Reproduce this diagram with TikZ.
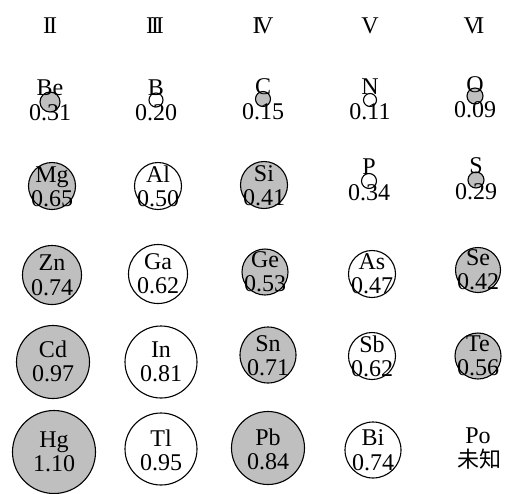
\documentclass[tikz,border=0pt]{standalone}
\usepackage{fontspec}
\setmainfont{Liberation Serif}
\newfontfamily\cjk{Noto Sans CJK SC}
\newcommand\atomcell[9]{%
  \node[#5,minimum size=#4*2pt] (#1) at (#2,#3) {};
  \node[lbl] (#1-el) at (#2,#8) {#6};
  \node[lbl] (#1-r) at (#2,#9) {#7};}
\begin{document}
\begin{tikzpicture}[x=1pt,y=-1pt,
  atom/.style={circle,draw,line width=1.1pt,inner sep=0pt,outer sep=0pt},
  filled/.style={atom,fill=black!25},
  hollow/.style={atom,fill=white},
  lbl/.style={anchor=base,inner sep=0pt,font=\fontsize{24}{26}\selectfont},
  head/.style={anchor=base,inner sep=0pt,font=\fontsize{24}{24}\selectfont}]
\useasboundingbox (0,0) rectangle (511,493);
% headers
\node[head] (h2) at (50,33) {I\kern-2pt I};
\node[head] (h3) at (155,33) {I\kern-3pt I\kern-3pt I};
\node[head] (h4) at (263,33) {I\kern-4.5pt V};
\node[head] (h5) at (370,33) {V};
\node[head] (h6) at (474,33) {V\kern-4.5pt I};
% row 1
\atomcell{be}{50}{102}{10}{filled}{Be}{0.31}{95}{120}
\atomcell{b}{156}{100}{7}{hollow}{B}{0.20}{95}{120}
\atomcell{c}{263}{99}{7.5}{filled}{C}{0.15}{94}{119}
\atomcell{n}{370}{100}{6.5}{hollow}{N}{0.11}{94}{119}
\atomcell{o}{475}{96}{8}{filled}{O}{0.09}{92}{117}
% row 2
\atomcell{mg}{52}{186}{23.5}{filled}{Mg}{0.65}{182}{206.5}
\atomcell{al}{158}{186}{23.5}{hollow}{Al}{0.50}{182}{206.5}
\atomcell{si}{264}{185}{23.5}{filled}{Si}{0.41}{181}{205.5}
\atomcell{p}{369}{181}{7.5}{hollow}{P}{0.34}{174}{200}
\atomcell{s}{476}{180}{8}{filled}{S}{0.29}{173}{199}
% row 3
\atomcell{zn}{52}{275}{29.5}{filled}{Zn}{0.74}{270}{295}
\atomcell{ga}{158}{274}{29.5}{hollow}{Ga}{0.62}{269}{293.5}
\atomcell{ge}{265}{272}{23}{filled}{Ge}{0.53}{267}{291}
\atomcell{as}{372}{274}{23.5}{hollow}{As}{0.47}{269}{293}
\atomcell{se}{478}{270}{22.5}{filled}{Se}{0.42}{265}{289}
% row 4
\atomcell{cd}{53}{362}{36.5}{filled}{Cd}{0.97}{357}{381}
\atomcell{in}{161}{362}{36}{hollow}{In}{0.81}{357}{381}
\atomcell{sn}{268}{355}{28}{filled}{Sn}{0.71}{351}{375.5}
\atomcell{sb}{372}{356}{23.5}{hollow}{Sb}{0.62}{352}{376}
\atomcell{te}{478}{356}{23}{filled}{Te}{0.56}{351}{375.5}
% row 5
\atomcell{hg}{54}{452}{41.5}{filled}{Hg}{1.10}{447}{471.5}
\atomcell{tl}{161}{449}{36}{hollow}{Tl}{0.95}{446}{470}
\atomcell{pb}{268}{448}{36.5}{filled}{Pb}{0.84}{445}{469}
\atomcell{bi}{373}{450}{28}{hollow}{Bi}{0.74}{445}{470}
\node[lbl] (po-el) at (478,443) {Po};
\node[lbl,font=\fontsize{22}{24}\cjk] (po-r) at (479,467) {未知};
\end{tikzpicture}
\end{document}
